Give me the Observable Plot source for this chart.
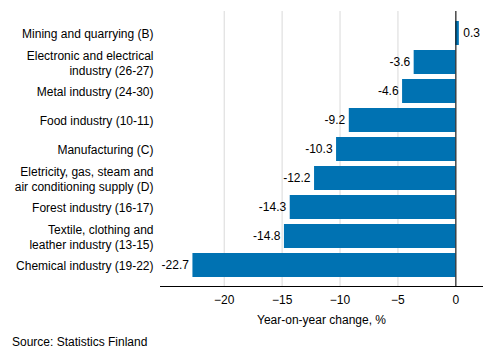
<!DOCTYPE html>
<html>
<head>
<meta charset="utf-8">
<script src="https://cdn.jsdelivr.net/npm/d3@7"></script>
<script src="https://cdn.jsdelivr.net/npm/@observablehq/plot@0.6"></script>
<style>
  body { margin: 0; background: #fff; font-family: Arial, "Liberation Sans", sans-serif; }
  #chart svg { display: block; }
  .caption { font-size: 12px; color: #000; padding-left: 12px; margin-top: 5px; }
</style>
</head>
<body>
<div id="chart"></div>
<script>
const categories = [
  "Mining and quarrying (B)",
  "Electronic and electrical\nindustry (26-27)",
  "Metal industry (24-30)",
  "Food industry (10-11)",
  "Manufacturing (C)",
  "Eletricity, gas, steam and\nair conditioning supply (D)",
  "Forest industry (16-17)",
  "Textile, clothing and\nleather industry (13-15)",
  "Chemical industry (19-22)"
];
const values = [0.3, -3.6, -4.6, -9.2, -10.3, -12.2, -14.3, -14.8, -22.7];
const xTicks = [-20, -15, -10, -5, 0];
const xLabel = "Year-on-year change, %";
const source = "Source: Statistics Finland";

const data = categories.map((c, i) => ({category: c, value: values[i]}));
const color = "#0072b2";

const chart = Plot.plot({
  width: 493,
  height: 330,
  marginLeft: 160,
  marginRight: 11,
  marginTop: 11,
  marginBottom: 44,
  style: {fontFamily: 'Arial, "Liberation Sans", sans-serif', fontSize: "12px", color: "#000", background: "#fff"},
  x: {domain: [-25.5, 2.3], ticks: xTicks, label: null},
  y: {domain: categories, paddingInner: 0.18, paddingOuter: 0.27, label: null},
  marks: [
    Plot.gridX(xTicks, {stroke: "#d9d9d9", strokeOpacity: 1}),
    Plot.barX(data, {x: "value", y: "category", fill: color}),
    Plot.ruleX([0], {stroke: "#000", strokeWidth: 1}),
    Plot.frame({anchor: "bottom", stroke: "#000"}),
    Plot.text(data.filter(d => d.value < 0), {
      x: "value", y: "category",
      text: d => d.value.toFixed(1),
      textAnchor: "end", dx: -4,
      fill: "#000", fontSize: 12
    }),
    Plot.text(data.filter(d => d.value >= 0), {
      x: "value", y: "category",
      text: d => d.value.toFixed(1),
      textAnchor: "start", dx: 4,
      fill: "#000", fontSize: 12
    }),
    Plot.axisX({ticks: xTicks, tickSize: 0, tickPadding: 9, fontSize: 12, label: xLabel, labelAnchor: "center", labelArrow: "none", labelOffset: 37}),
    Plot.axisY({tickSize: 0, tickPadding: 7, fontSize: 12, lineHeight: 1.22, label: null})
  ]
});
document.getElementById("chart").appendChild(chart);
const cap = document.createElement("div");
cap.className = "caption";
cap.textContent = source;
document.body.appendChild(cap);
</script>
</body>
</html>
